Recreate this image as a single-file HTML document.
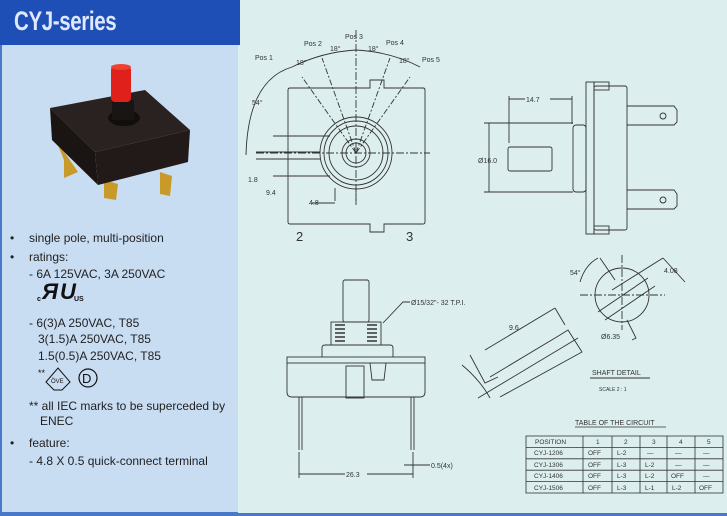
<!DOCTYPE html>
<html><head><meta charset="utf-8"><style>
body{margin:0;width:727px;height:516px;overflow:hidden;background:#dcefee;font-family:"Liberation Sans",sans-serif}
#l{position:absolute;left:0;top:0;width:238px;height:514px;background:#c8dcf2;border-left:2px solid #4a78c8;border-bottom:2px solid #4a78c8;box-sizing:border-box}
#h{position:absolute;left:0;top:0;width:240px;height:45px;background:#1e4fb6}
#h span{position:absolute;left:14px;top:6px;color:#dfe8ff;font:bold 27px "Liberation Sans",sans-serif;transform:scaleX(.76);transform-origin:left;letter-spacing:-0.5px}
.t{position:absolute;font-size:12px;color:#222;white-space:nowrap}
svg{position:absolute;left:0;top:0}
</style></head><body>
<div id="l"></div><div id="h"><span>CYJ-series</span></div>
<div class="t" style="left:10px;top:231px">•</div><div class="t" style="left:29px;top:231px">single pole, multi-position</div>
<div class="t" style="left:10px;top:250px">•</div><div class="t" style="left:29px;top:250px">ratings:</div>
<div class="t" style="left:29px;top:267px">- 6A 125VAC, 3A 250VAC</div>
<div class="t" style="left:29px;top:316px">- 6(3)A 250VAC, T85</div>
<div class="t" style="left:38px;top:332px">3(1.5)A 250VAC, T85</div>
<div class="t" style="left:38px;top:349px">1.5(0.5)A 250VAC, T85</div>
<div class="t" style="left:29px;top:399px">** all IEC marks to be superceded by</div>
<div class="t" style="left:40px;top:414px">ENEC</div>
<div class="t" style="left:10px;top:436px">•</div><div class="t" style="left:29px;top:436px">feature:</div>
<div class="t" style="left:29px;top:454px">- 4.8 X 0.5 quick-connect terminal</div>
<svg width="727" height="516" viewBox="0 0 727 516" font-family="Liberation Sans,sans-serif">
<!-- photo -->
<polygon points="56,140 78,172 64,178 64,160" fill="#c89a2a"/>
<polygon points="160,172 172,176 170,196 160,194" fill="#c89a2a"/>
<polygon points="104,180 118,184 116,200 104,198" fill="#c89a2a"/>
<polygon points="50,108 145,90 190,130 95,152" fill="#2a2220"/>
<polygon points="50,108 95,152 98,185 52,140" fill="#1a1412"/>
<polygon points="95,152 190,130 188,162 98,185" fill="#221a18"/>
<ellipse cx="124" cy="118" rx="16" ry="8" fill="#120e0c"/>
<rect x="112" y="100" width="22" height="20" fill="#1a1515"/>
<rect x="111" y="66" width="20" height="36" rx="4" fill="#e0211b"/>
<ellipse cx="121" cy="67" rx="10" ry="3" fill="#f04030"/>
<!-- UL -->
<text x="37" y="301" font-size="7" font-weight="bold" fill="#111">c</text>
<text x="42" y="299" font-size="22" font-weight="bold" fill="#111" font-style="italic">Я</text>
<text x="60" y="299" font-size="22" font-weight="bold" fill="#111" font-style="italic">U</text>
<text x="74" y="301" font-size="7" font-weight="bold" fill="#111">US</text>
<text x="38" y="376" font-size="9" fill="#111">**</text>
<polygon points="46,382 58,368 70,382 62,390 54,390" fill="none" stroke="#111"/>
<text x="51" y="383" font-size="6" fill="#111">ÖVE</text>
<circle cx="88" cy="378" r="9" fill="none" stroke="#111" stroke-width="1.2"/>
<text x="82" y="383" font-size="13" fill="#111">D</text>
<g stroke="#333" fill="none" stroke-width="0.9">
<path d="M288,90 Q288,88 290,88 L370,88 L370,80 L384,80 L384,88 L423,88 Q425,88 425,90 L425,222 Q425,224 423,224 L384,224 L384,232 L370,232 L370,224 L290,224 Q288,224 288,222 Z"/>
<circle cx="356" cy="153" r="36"/><circle cx="356" cy="153" r="32"/><circle cx="356" cy="153" r="27"/>
<circle cx="356" cy="153" r="14"/><circle cx="356" cy="153" r="10"/>
<path d="M256,153 L430,153" stroke-dasharray="8,2,2,2"/>
<path d="M356,30 L356,205" stroke-dasharray="8,2,2,2"/>
<path d="M356,153 L302,77 M356,153 L322,58 M356,153 L390,58 M356,153 L410,77" stroke-dasharray="6,2,2,2"/>
<path d="M273,136 L330,136 M256,152 L320,152 M256,159 L320,159 M273,176 L330,176 M335,201 L335,188 M356,201 L356,188 M312,203 L335,203"/>
<path d="M246,155 Q248,80 292,67 Q322,52 356,50 Q392,52 420,67"/>
<rect x="586" y="82" width="8" height="152"/><rect x="594" y="86" width="33" height="144" rx="2"/>
<rect x="594" y="82" width="15" height="8"/><rect x="594" y="226" width="15" height="8"/>
<rect x="508" y="147" width="44" height="24" rx="2"/>
<rect x="573" y="125" width="13" height="67" rx="3"/>
<path d="M627,106 L674,106 L677,110 L677,122 L674,125 L627,125 M627,190 L674,190 L677,194 L677,206 L674,209 L627,209"/>
<circle cx="663" cy="116" r="3"/><circle cx="663" cy="200" r="3"/>
<path d="M509,143 L509,96 M572,124 L572,96 M509,99 L525,99 M550,99 L572,99 M489,123 L489,192 M484,123 L573,123 M484,192 L573,192"/>
<circle cx="622" cy="295" r="27"/>
<path d="M580,295 L665,295 M622,255 L622,330" stroke-dasharray="8,2,2,2"/>
<path d="M598,312 L648,278 M605,320 L655,286"/>
<path d="M580,282 Q585,265 598,258 M600,258 L615,280 M663,258 L685,282 M663,258 L612,290"/>
<path d="M627,320 L636,338 L632,340"/>
<path d="M590,378 L650,378"/>
<path d="M485,350 L555,308 M555,308 L565,325 M490,377 L560,335 L568,330 L582,352 L500,397 M470,355 L485,383 L498,377 M490,398 Q480,380 462,365 M478,398 L578,338" />
<rect x="343" y="280" width="26" height="42" rx="2"/>
<rect x="331" y="322" width="50" height="23"/>
<path d="M335,325 L345,325 M335,329 L345,329 M335,333 L345,333 M335,337 L345,337 M335,341 L345,341 M367,325 L377,325 M367,329 L377,329 M367,333 L377,333 M367,337 L377,337 M367,341 L377,341" stroke-width="1.6"/>
<path d="M322,357 L322,348 Q322,345 325,345 L390,345 Q393,345 393,348 L393,357"/>
<rect x="287" y="357" width="138" height="6"/>
<path d="M287,363 L287,392 Q287,397 292,397 L420,397 Q425,397 425,392 L425,363"/>
<rect x="346" y="366" width="18" height="32"/><path d="M370,363 L372,380 L384,380 L386,363"/>
<path d="M299,397 L299,450 M302,397 L302,450 M411,397 L411,450 M414,397 L414,450"/>
<path d="M299,452 L299,478 M413,452 L413,478 M299,474 L345,474 M367,474 L413,474 M404,465 L430,465 M383,323 L403,302 L410,302"/>
</g>
<g font-size="7" fill="#333">
<text x="255" y="60">Pos 1</text><text x="304" y="46">Pos 2</text><text x="345" y="39">Pos 3</text><text x="386" y="45">Pos 4</text><text x="422" y="62">Pos 5</text>
<text x="296" y="65">18°</text><text x="330" y="51">18°</text><text x="368" y="51">18°</text><text x="399" y="63">18°</text>
<text x="252" y="105">54°</text><text x="248" y="182">1.8</text><text x="266" y="195">9.4</text><text x="309" y="205">4.8</text>
<text x="526" y="102">14.7</text><text x="478" y="163">Ø16.0</text>
<text x="570" y="275">54°</text><text x="664" y="273">4.08</text><text x="601" y="339">Ø6.35</text>
<text x="509" y="330">9.6</text>
<text x="592" y="375">SHAFT DETAIL</text><text x="599" y="391" font-size="5">SCALE 2 : 1</text>
<text x="411" y="305">Ø15/32"- 32 T.P.I.</text>
<text x="346" y="477">26.3</text><text x="431" y="468">0.5(4x)</text>
<text x="575" y="425">TABLE OF THE CIRCUIT</text>
</g>
<text x="296" y="241" font-size="13" fill="#333">2</text><text x="406" y="241" font-size="13" fill="#333">3</text>
<path d="M575,427 L666,427" stroke="#333" stroke-width="0.7"/>
<g stroke="#333" fill="none" stroke-width="0.8">
<rect x="526" y="436" width="197" height="57"/>
<path d="M526,447.4 L723,447.4 M526,458.8 L723,458.8 M526,470.2 L723,470.2 M526,481.6 L723,481.6 M583,436 L583,493 M612,436 L612,493 M640,436 L640,493 M667,436 L667,493 M695,436 L695,493"/>
</g>
<g font-size="6.5" fill="#333">
<text x="535" y="444">POSITION</text><text x="596" y="444">1</text><text x="624" y="444">2</text><text x="652" y="444">3</text><text x="679" y="444">4</text><text x="707" y="444">5</text>
<text x="534" y="455">CYJ-1206</text><text x="588" y="455">OFF</text><text x="617" y="455">L-2</text><text x="647" y="455">—</text><text x="675" y="455">—</text><text x="703" y="455">—</text>
<text x="534" y="467">CYJ-1306</text><text x="588" y="467">OFF</text><text x="617" y="467">L-3</text><text x="645" y="467">L-2</text><text x="675" y="467">—</text><text x="703" y="467">—</text>
<text x="534" y="478">CYJ-1406</text><text x="588" y="478">OFF</text><text x="617" y="478">L-3</text><text x="645" y="478">L-2</text><text x="671" y="478">OFF</text><text x="703" y="478">—</text>
<text x="534" y="490">CYJ-1506</text><text x="588" y="490">OFF</text><text x="617" y="490">L-3</text><text x="645" y="490">L-1</text><text x="672" y="490">L-2</text><text x="699" y="490">OFF</text>
</g>
<rect x="0" y="513" width="727" height="3" fill="#4a78c8"/>
</svg>
</body></html>
